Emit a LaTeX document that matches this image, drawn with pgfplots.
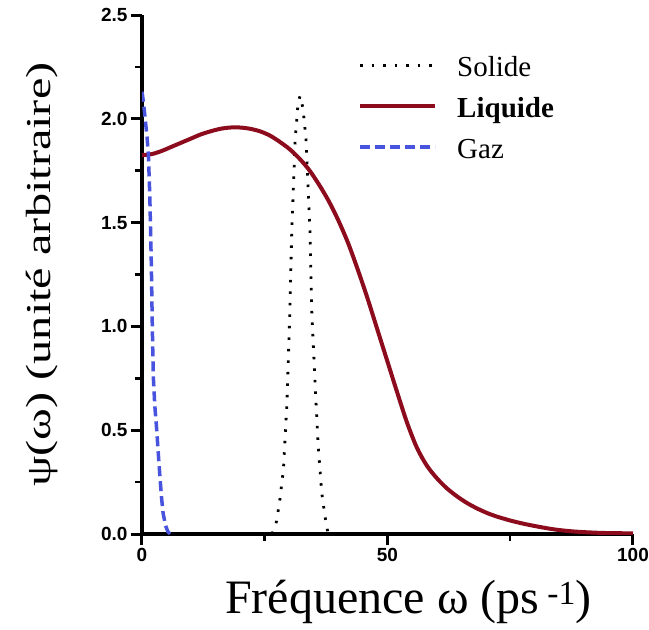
\documentclass[border=0pt]{standalone}
\usepackage{fontspec}
\setmainfont{Liberation Serif}
\newfontfamily\tickfont{Liberation Sans}
\usepackage{graphicx}
\usepackage{pgfplots}
\pgfplotsset{compat=1.18}
\definecolor{liq}{RGB}{140,12,30}
\definecolor{gaz}{RGB}{72,84,222}
\begin{document}
\begin{tikzpicture}
\begin{axis}[
  scale only axis, width=491pt, height=519pt,
  xmin=0, xmax=100, ymin=0, ymax=2.5,
  axis x line*=bottom, axis y line*=left,
  axis line style={-, line width=3.5pt},
  xtick={0,50,100},
  ytick={0,0.5,1,1.5,2,2.5},
  minor tick num=1,
  tick align=outside,
  major tick length=11pt, minor tick length=7pt,
  major tick style={draw=black, solid, line width=3pt},
  minor tick style={draw=black, solid, line width=2.5pt},
  /pgf/number format/assume math mode=true,
  ticklabel style={font=\tickfont\bfseries\fontsize{19}{22}\selectfont},
  yticklabel style={/pgf/number format/.cd, fixed, fixed zerofill, precision=1},
  xlabel={Fréquence ω (ps\,\textsuperscript{-1})},
  xlabel style={font=\fontsize{48}{54}\selectfont, at={(axis description cs:0.543,-0.154)}, anchor=base},
  ylabel={\scalebox{1.38}[1]{ψ(ω) (unité arbitraire)}},
  ylabel style={font=\fontsize{35}{40}\selectfont, at={(axis description cs:-0.2037,0.5)}, anchor=center},
  legend style={at={(0.44,0.925)}, anchor=north west, draw=none, fill=none, inner sep=0pt,
    font=\fontsize{29}{34}\selectfont, row sep=13pt,
    nodes={inner ysep=0pt, text height=22pt, text depth=6pt},
    /tikz/every odd column/.append style={column sep=18pt}},
  legend cell align=left,
  legend image code/.code={\draw[#1] (0pt,3pt) -- (75pt,3pt);},
]
\coordinate (O) at (rel axis cs:0,0);
\addplot[black, line width=2.8pt, dash pattern=on 2.5pt off 9pt] coordinates {
(26.5,0.0) (27.3,0.05) (28.0,0.15) (28.8,0.31) (29.5,0.62) (30.1,1.06) (30.5,1.46)
(31.2,1.90) (31.8,2.08) (32.2,2.11) (32.8,2.05) (33.4,1.90) (34.2,1.46) (34.6,1.06)
(35.3,0.70) (35.9,0.42) (36.6,0.20) (37.3,0.08) (37.9,0.0)
};
\addlegendentry{Solide}
\addplot[liq, line width=4pt, smooth] coordinates {
(0,1.825) (2,1.83) (4,1.845) (6,1.865) (8,1.885) (10,1.905) (12,1.925) (14,1.94)
(16,1.952) (18,1.958) (20,1.958) (22,1.952) (24,1.94) (26,1.92) (28,1.89) (30,1.855)
(32,1.81) (34,1.755) (36,1.685) (38,1.605) (40,1.51) (42,1.40) (44,1.27) (46,1.13)
(48,0.98) (50,0.83) (52,0.68) (54,0.535) (56,0.415) (58,0.33) (60,0.27) (62,0.222)
(64,0.184) (66,0.152) (68,0.126) (70,0.104) (72,0.086) (75,0.065) (78,0.048) (81,0.034)
(84,0.022) (87,0.014) (90,0.009) (94,0.005) (100,0.003)
};
\addlegendentry{\textbf{Liquide}}
\addplot[gaz, line width=3.5pt, dash pattern=on 10pt off 5pt] coordinates {
(0,2.13) (0.3,2.08) (0.6,2.01) (1.0,1.92) (1.3,1.83) (1.6,1.62) (1.9,1.30) (2.1,1.00)
(2.3,0.76) (2.6,0.62) (3.0,0.50) (3.4,0.36) (3.7,0.26) (4.0,0.17) (4.3,0.10) (4.8,0.04)
(5.3,0.01) (5.7,0.0)
};
\addlegendentry{Gaz}
\end{axis}
\pgfresetboundingbox
\path ([shift={(-142pt,-96pt)}]O) rectangle ([shift={(507pt,534pt)}]O);
\end{tikzpicture}
\end{document}
